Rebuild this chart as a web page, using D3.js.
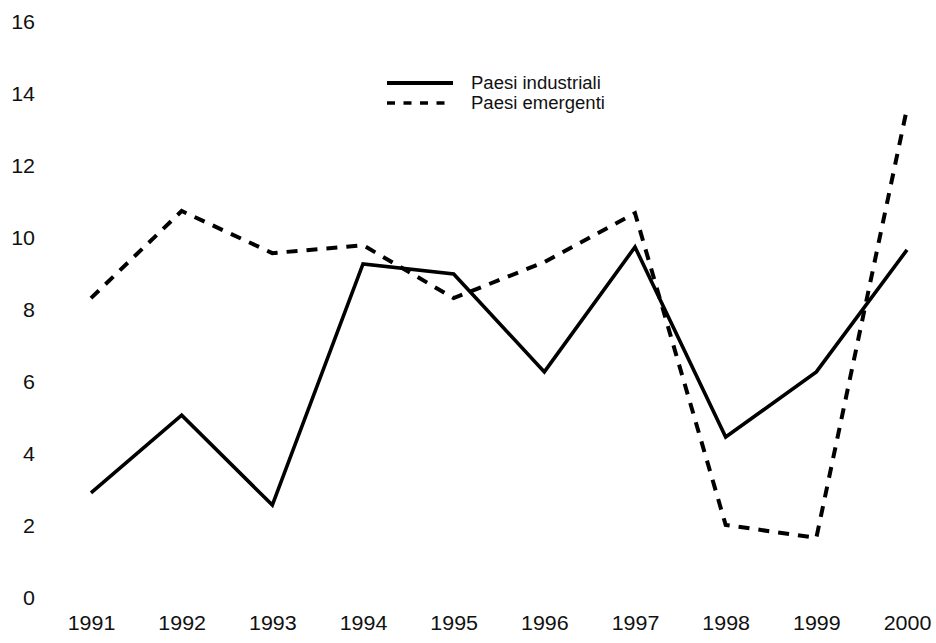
<!DOCTYPE html>
<html>
<head>
<meta charset="utf-8">
<script src="https://cdn.jsdelivr.net/npm/d3@7"></script>
<style>
  body { margin: 0; background: #fff; }
  svg text { font-family: "Liberation Sans", Arial, sans-serif; fill: #111; }
</style>
</head>
<body>
<svg id="chart" width="936" height="643"></svg>
<script>
// data
var years = [1991, 1992, 1993, 1994, 1995, 1996, 1997, 1998, 1999, 2000];
var industriali = [2.92, 5.08, 2.58, 9.28, 9.0, 6.28, 9.75, 4.47, 6.28, 9.67];
var emergenti = [8.33, 10.75, 9.58, 9.8, 8.33, 9.33, 10.69, 2.03, 1.67, 13.6];
var yTicks = [0, 2, 4, 6, 8, 10, 12, 14, 16];
var legendLabels = ["Paesi industriali", "Paesi emergenti"];

var svg = d3.select("#chart");

var x = d3.scaleLinear().domain([1991, 2000]).range([91, 907]);
var y = d3.scaleLinear().domain([0, 16]).range([598, 22]);

// y axis, labels only
var yAxis = svg.append("g")
  .attr("transform", "translate(35,0)")
  .call(d3.axisLeft(y).tickValues(yTicks).tickSize(0).tickPadding(0).tickFormat(d3.format("d")));
yAxis.select(".domain").remove();
yAxis.selectAll("text")
  .attr("font-size", "19.5px")
  .attr("font-family", null)
  .attr("transform", "scale(1.1,1)");

// x axis, labels only
var xAxis = svg.append("g")
  .attr("transform", "translate(0,616)")
  .call(d3.axisBottom(x).tickValues(years).tickSize(0).tickPadding(0).tickFormat(d3.format("d")));
xAxis.select(".domain").remove();
xAxis.selectAll("text")
  .attr("font-size", "19.5px")
  .attr("font-family", null)
  .attr("transform", "scale(1.1,1)");

var line = d3.line()
  .x((d, i) => x(years[i]))
  .y(d => y(d));

svg.append("path")
  .datum(emergenti)
  .attr("d", line)
  .attr("fill", "none")
  .attr("stroke", "#000")
  .attr("stroke-width", 4)
  .attr("stroke-dasharray", "11,9");

svg.append("path")
  .datum(industriali)
  .attr("d", line)
  .attr("fill", "none")
  .attr("stroke", "#000")
  .attr("stroke-width", 3.6)
  .attr("stroke-linejoin", "miter");

// legend
var legend = svg.append("g").attr("transform", "translate(387,83)");
legendLabels.forEach((lab, i) => {
  var row = legend.append("g").attr("transform", "translate(0," + (i * 20) + ")");
  row.append("line")
    .attr("x1", 0).attr("x2", 66)
    .attr("y1", 0).attr("y2", 0)
    .attr("stroke", "#000")
    .attr("stroke-width", i == 0 ? 4 : 3.5)
    .attr("stroke-dasharray", i == 0 ? null : "8,8.5");
  row.append("text")
    .attr("transform", "translate(84,6) scale(1.06,1)")
    .attr("font-size", "17.5px")
    .text(lab);
});
</script>
</body>
</html>
